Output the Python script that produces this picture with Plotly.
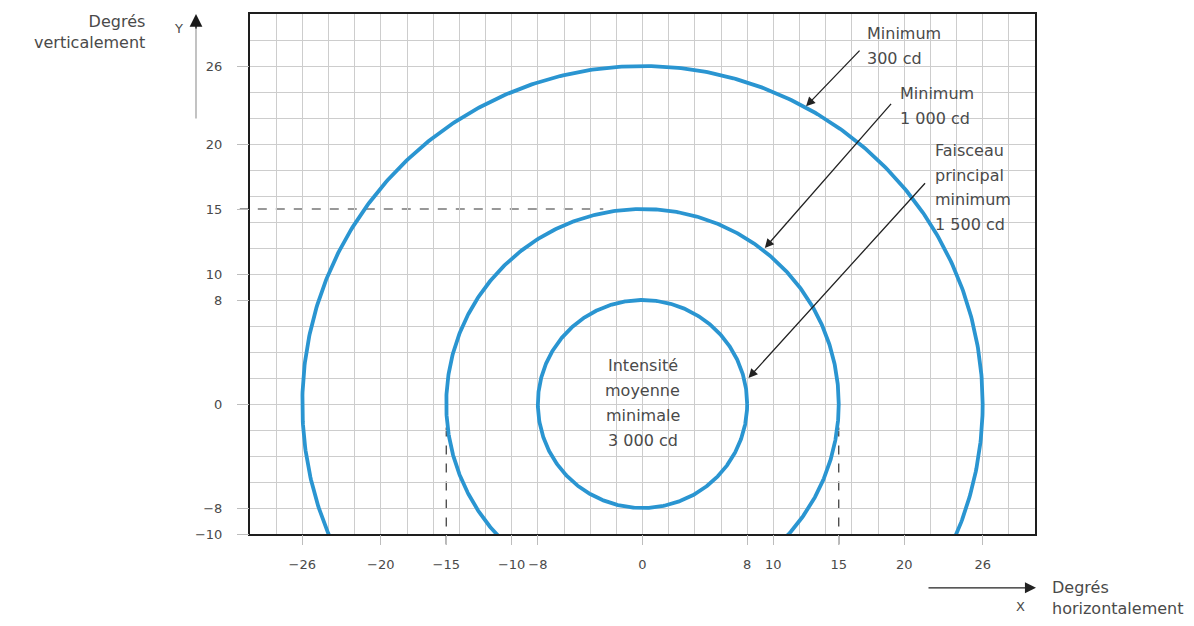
import numpy as np
import plotly.graph_objects as go

# Iso-intensity contours (radius in degrees) and their labels
radii = [26, 15, 8]
x_ticks = [-26, -20, -15, -10, -8, 0, 8, 10, 15, 20, 26]
y_ticks = [-10, -8, 0, 8, 10, 15, 20, 26]
x_range = [-30, 30]
y_range = [-10, 30]
grid_step = 2

label_300 = ["Minimum", "300 cd"]
label_1000 = ["Minimum", "1 000 cd"]
label_1500 = ["Faisceau", "principal", "minimum", "1 500 cd"]
label_3000 = ["Intensité", "moyenne", "minimale", "3 000 cd"]

BLUE = "#2a95d1"
TEXT = "#4a4a4a"
FONT = "DejaVu Sans"

W, H = 1194, 626
ML, MR, MT, MB = 250, 159, 12, 92
PW, PH = W - ML - MR, H - MT - MB


def px_to_paper(px, py):
    return (px - ML) / PW, (H - MB - py) / PH


def xfrac(v):
    return (v - x_range[0]) / (x_range[1] - x_range[0])


def yfrac(v):
    return (v - y_range[0]) / (y_range[1] - y_range[0])


def fmt(v):
    return ("\u2212" + str(abs(v))) if v < 0 else str(v)


fig = go.Figure()

theta = np.linspace(0, 2 * np.pi, 721)
for r in radii:
    fig.add_trace(go.Scatter(
        x=r * np.cos(theta), y=r * np.sin(theta), mode="lines",
        line=dict(color=BLUE, width=3.8), hoverinfo="skip", showlegend=False,
    ))

# Hidden trace that carries the labelled overlay axes
fig.add_trace(go.Scatter(
    x=x_range, y=y_range, xaxis="x2", yaxis="y2", mode="markers",
    marker=dict(opacity=0), hoverinfo="skip", showlegend=False,
))

# Dashed reference lines at +-15 degrees, running a little past the frame
dash = dict(color="#333333", width=1.2, dash="dash")
for xv in (-15, 15):
    fig.add_shape(type="line", xref="paper", yref="paper",
                  x0=xfrac(xv), x1=xfrac(xv), y0=-0.02, y1=yfrac(0),
                  line=dash, layer="below")
fig.add_shape(type="line", xref="paper", yref="paper",
              x0=-0.013, x1=xfrac(-3), y0=yfrac(15), y1=yfrac(15),
              line=dash, layer="below")

annotations = []


def text_block(lines, x, y, xanchor="left", step=25):
    for i, t in enumerate(lines):
        annotations.append(dict(
            x=x, y=y, xref="x", yref="y", text=t, showarrow=False,
            xanchor=xanchor, yanchor="middle", yshift=-step * i,
            font=dict(family=FONT, size=16, color=TEXT),
        ))


text_block(label_300, 17.0, 28.5)
text_block(label_1000, 19.5, 23.9)
text_block(label_1500, 22.2, 19.5, step=24.7)
text_block(label_3000, 0, 3.0, xanchor="center", step=25.3)


def pointer(head, tail):
    annotations.append(dict(
        x=head[0], y=head[1], ax=tail[0], ay=tail[1],
        xref="x", yref="y", axref="x", ayref="y", text="",
        showarrow=True, arrowhead=2, arrowsize=1.4, arrowwidth=1.3,
        arrowcolor="#222222", standoff=0,
    ))


pointer((12.5, 22.9), (16.7, 27.3))
pointer((9.35, 12.0), (19.1, 23.2))
pointer((8.1, 2.0), (21.7, 17.1))

# Vertical axis caption and arrow
lx, ly = px_to_paper(147, 8)
annotations.append(dict(
    x=lx, y=ly, xref="paper", yref="paper", text="Degrés<br>verticalement",
    showarrow=False, xanchor="right", yanchor="top", align="right",
    font=dict(family=FONT, size=16, color=TEXT),
))
yx, yy = px_to_paper(178, 27)
annotations.append(dict(
    x=yx, y=yy, xref="paper", yref="paper", text="Y", showarrow=False,
    xanchor="center", yanchor="middle", font=dict(family=FONT, size=13, color=TEXT),
))
ax0, ay0 = px_to_paper(196, 117)
ax1, ay1 = px_to_paper(196, 26)
fig.add_shape(type="line", xref="paper", yref="paper", x0=ax0, x1=ax1,
              y0=ay0, y1=ay1, line=dict(color="#9a9a9a", width=1.2))
hx, hy = px_to_paper(196, 12)
annotations.append(dict(
    x=hx, y=hy, xref="paper", yref="paper", ax=0, ay=16, text="",
    showarrow=True, arrowhead=2, arrowsize=1.7, arrowwidth=1.5,
    arrowcolor="#1a1a1a", standoff=0,
))

# Horizontal axis caption and arrow
hx, hy = px_to_paper(1036, 588)
annotations.append(dict(
    x=hx, y=hy, xref="paper", yref="paper", ax=-109, ay=0, text="",
    showarrow=True, arrowhead=2, arrowsize=1.7, arrowwidth=1.3,
    arrowcolor="#222222", standoff=0,
))
cx, cy = px_to_paper(1050, 576)
annotations.append(dict(
    x=cx, y=cy, xref="paper", yref="paper", text="Degrés<br>horizontalement",
    showarrow=False, xanchor="left", yanchor="top", align="left",
    font=dict(family=FONT, size=16, color=TEXT),
))
xx, xy = px_to_paper(1020, 607)
annotations.append(dict(
    x=xx, y=xy, xref="paper", yref="paper", text="X", showarrow=False,
    xanchor="center", yanchor="middle", font=dict(family=FONT, size=13, color=TEXT),
))

grid_axis = dict(
    dtick=grid_step, tick0=0, showgrid=True, gridcolor="#cdcdcd", gridwidth=1,
    showticklabels=False, ticks="", zeroline=False, showline=True,
    linecolor="#1e1e1e", linewidth=2, mirror=True, fixedrange=True,
)
label_axis = dict(
    tickmode="array", showgrid=False, zeroline=False, showline=False,
    ticks="outside", tickcolor="#bdbdbd", tickwidth=1, fixedrange=True,
    tickangle=0, tickfont=dict(family=FONT, size=13, color=TEXT),
)

fig.update_layout(
    width=W, height=H,
    margin=dict(l=ML, r=MR, t=MT, b=MB),
    paper_bgcolor="white", plot_bgcolor="white",
    xaxis=dict(range=x_range, **grid_axis),
    yaxis=dict(range=y_range, **grid_axis),
    xaxis2=dict(range=x_range, overlaying="x", anchor="y", side="bottom",
                tickvals=x_ticks, ticktext=[fmt(v) for v in x_ticks],
                ticklen=10, ticklabelstandoff=8, **label_axis),
    yaxis2=dict(range=y_range, overlaying="y", anchor="x", side="left",
                tickvals=y_ticks, ticktext=[fmt(v) for v in y_ticks],
                ticklen=12, ticklabelstandoff=12, **label_axis),
    annotations=annotations,
    showlegend=False,
)

fig.write_html("out.html")
